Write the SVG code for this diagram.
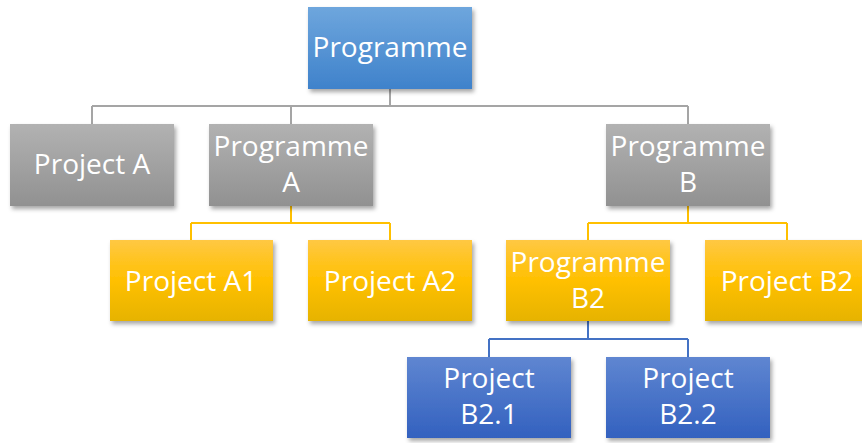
<svg xmlns="http://www.w3.org/2000/svg" width="862" height="443" viewBox="0 0 862 443">
  <defs>
    <linearGradient id="gTop" x1="0" y1="0" x2="0" y2="1">
      <stop offset="0" stop-color="#6ea6dd"/>
      <stop offset="1" stop-color="#3f82cb"/>
    </linearGradient>
    <linearGradient id="gGray" x1="0" y1="0" x2="0" y2="1">
      <stop offset="0" stop-color="#b2b2b2"/>
      <stop offset="1" stop-color="#919191"/>
    </linearGradient>
    <linearGradient id="gGold" x1="0" y1="0" x2="0" y2="1">
      <stop offset="0" stop-color="#ffc843"/>
      <stop offset="0.5" stop-color="#ffc000"/>
      <stop offset="1" stop-color="#e6b300"/>
    </linearGradient>
    <linearGradient id="gBlue" x1="0" y1="0" x2="0" y2="1">
      <stop offset="0" stop-color="#5f86d1"/>
      <stop offset="1" stop-color="#3361bf"/>
    </linearGradient>
    <filter id="shadow" x="-10%" y="-10%" width="125%" height="130%">
      <feDropShadow dx="2" dy="3" stdDeviation="2" flood-color="#000" flood-opacity="0.35"/>
    </filter>
  </defs>
  <style>
    .box { filter: url(#shadow); }
    .top { fill: url(#gTop); }
    .gray { fill: url(#gGray); }
    .gold { fill: url(#gGold); }
    .blue { fill: url(#gBlue); }
    text { font-family: "Open Sans", "Noto Sans", sans-serif; font-size: 28px; fill: #ffffff; text-anchor: middle; }
    .c-gray { stroke: #a5a5a5; stroke-width: 2; fill: none; }
    .c-gold { stroke: #ffc000; stroke-width: 2; fill: none; }
    .c-blue { stroke: #4472c4; stroke-width: 2; fill: none; }
  </style>
  <rect width="862" height="443" fill="#ffffff"/>

  <g id="connectors">
    <path class="c-gray" d="M390 89 V106 M92 106 H688 M92 106 V124 M291 106 V124 M688 106 V124"/>
    <path class="c-gold" d="M291 206 V223 M191 223 H390 M191 223 V240 M390 223 V240"/>
    <path class="c-gold" d="M688 206 V223 M588 223 H787 M588 223 V240 M787 223 V240"/>
    <path class="c-blue" d="M588 321 V339 M489 339 H688 M489 339 V357 M688 339 V357"/>
  </g>

  <g id="programme">
    <rect class="box top" x="308" y="7" width="164" height="82"/>
    <text x="390" y="57">Programme</text>
  </g>
  <g id="project-a">
    <rect class="box gray" x="10" y="124" width="164" height="82"/>
    <text x="92" y="174">Project A</text>
  </g>
  <g id="programme-a">
    <rect class="box gray" x="209" y="124" width="164" height="82"/>
    <text x="291" y="156">Programme</text>
    <text x="291" y="192">A</text>
  </g>
  <g id="programme-b">
    <rect class="box gray" x="606" y="124" width="164" height="82"/>
    <text x="688" y="156">Programme</text>
    <text x="688" y="192">B</text>
  </g>
  <g id="project-a1">
    <rect class="box gold" x="110" y="240" width="163" height="81"/>
    <text x="191" y="291">Project A1</text>
  </g>
  <g id="project-a2">
    <rect class="box gold" x="308" y="240" width="164" height="81"/>
    <text x="390" y="291">Project A2</text>
  </g>
  <g id="programme-b2">
    <rect class="box gold" x="506" y="240" width="164" height="81"/>
    <text x="588" y="272">Programme</text>
    <text x="588" y="308">B2</text>
  </g>
  <g id="project-b2">
    <rect class="box gold" x="705" y="240" width="164" height="81"/>
    <text x="787" y="291">Project B2</text>
  </g>
  <g id="project-b2-1">
    <rect class="box blue" x="407" y="357" width="164" height="81"/>
    <text x="489" y="388">Project</text>
    <text x="489" y="424">B2.1</text>
  </g>
  <g id="project-b2-2">
    <rect class="box blue" x="606" y="357" width="164" height="81"/>
    <text x="688" y="388">Project</text>
    <text x="688" y="424">B2.2</text>
  </g>
</svg>
